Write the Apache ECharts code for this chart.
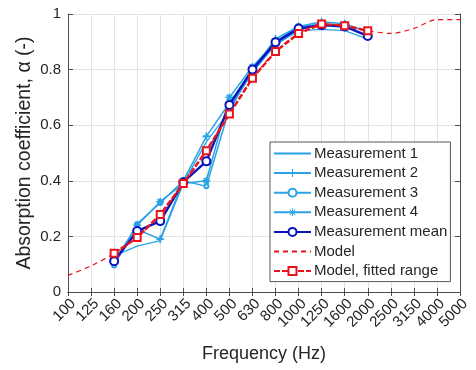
<!DOCTYPE html>
<html>
<head>
<meta charset="utf-8">
<script src="https://cdn.jsdelivr.net/npm/echarts@6/dist/echarts.min.js"></script>
<style>
  html, body { margin: 0; padding: 0; background: #fff; }
  #chart { width: 476px; height: 370px; }
</style>
</head>
<body>
<div id="chart"></div>
<script>
// Third-octave band centre frequencies (Hz)
const frequencies = ['100', '125', '160', '200', '250', '315', '400', '500', '630', '800',
  '1000', '1250', '1600', '2000', '2500', '3150', '4000', '5000'];

// Measured absorption coefficients, 160 Hz .. 2000 Hz (null outside the measured band)
const measurement1 = [null, null, 0.13, 0.165, 0.185, 0.39, 0.54, 0.65, 0.80, 0.89, 0.94, 0.945, 0.94, 0.91, null, null, null, null];
const measurement2 = [null, null, 0.11, 0.225, 0.19, 0.40, 0.56, 0.68, 0.80, 0.91, 0.955, 0.972, 0.965, 0.935, null, null, null, null];
const measurement3 = [null, null, 0.095, 0.245, 0.32, 0.40, 0.38, 0.66, 0.79, 0.89, 0.945, 0.96, 0.955, 0.92, null, null, null, null];
const measurement4 = [null, null, 0.11, 0.24, 0.325, 0.39, 0.40, 0.70, 0.81, 0.90, 0.955, 0.963, 0.96, 0.92, null, null, null, null];
const measurementMean = [null, null, 0.111, 0.219, 0.255, 0.395, 0.47, 0.673, 0.80, 0.898, 0.948, 0.96, 0.955, 0.921, null, null, null, null];

// Model prediction over the full band, and the part used for fitting
const model = [0.06, 0.094, 0.139, 0.196, 0.279, 0.39, 0.508, 0.64, 0.769, 0.865, 0.93, 0.964, 0.958, 0.94, 0.93, 0.948, 0.98, 0.98];
const modelFitted = [null, null, 0.139, 0.196, 0.279, 0.39, 0.508, 0.64, 0.769, 0.865, 0.93, 0.964, 0.958, 0.94, null, null, null, null];

const yTicks = { min: 0, max: 1, interval: 0.2 };

const FONT = "'Liberation Sans', Arial, Helvetica, sans-serif";
const TEXT = '#262626';
const AXIS = '#4d4d4d';
const GRIDLINE = '#e3e3e3';
const LIGHT_BLUE = '#2aa3e6';
const DARK_BLUE = '#0a14bd';
const RED = '#e8141c';
const NO_FILL = 'rgba(0,0,0,0)';

const plusSymbol = 'path://M-1,-0.13H1V0.13H-1Z M-0.13,-1H0.13V1H-0.13Z';
const starSymbol = 'path://M-1,-0.12H1V0.12H-1Z M-0.12,-1H0.12V1H-0.12Z ' +
  'M-0.78,-0.62L0.62,0.78L0.78,0.62L-0.62,-0.78Z M0.62,-0.78L0.78,-0.62L-0.62,0.78L-0.78,0.62Z';

function measSeries(name, data, symbol, size, extra) {
  return Object.assign({
    name: name,
    type: 'line',
    data: data,
    symbol: symbol,
    symbolSize: size,
    connectNulls: false,
    lineStyle: { color: LIGHT_BLUE, width: 1.5 },
    itemStyle: { color: LIGHT_BLUE, borderColor: LIGHT_BLUE },
    emphasis: { disabled: true },
    z: 2
  }, extra || {});
}

const chart = echarts.init(document.getElementById('chart'), null, { renderer: 'canvas' });

chart.setOption({
  animation: false,
  backgroundColor: '#fff',
  textStyle: { fontFamily: FONT },
  grid: { left: 68, right: 16, top: 14, bottom: 78, containLabel: false },
  xAxis: [{
    type: 'category',
    data: frequencies,
    boundaryGap: false,
    position: 'bottom',
    name: 'Frequency (Hz)',
    nameLocation: 'middle',
    nameGap: 53,
    nameMoveOverlap: false,
    nameTextStyle: { fontSize: 18, color: TEXT, fontFamily: FONT },
    axisLine: { show: true, lineStyle: { color: AXIS, width: 1 } },
    axisTick: { show: true, inside: true, length: 4, alignWithLabel: true, lineStyle: { color: AXIS } },
    axisLabel: { rotate: 45, fontSize: 15, color: TEXT, margin: 4, interval: 0, fontFamily: FONT,
      align: 'right', verticalAlign: 'top' },
    splitLine: { show: true, interval: 0, lineStyle: { color: GRIDLINE, width: 1 } }
  }, {
    type: 'category',
    data: frequencies,
    boundaryGap: false,
    position: 'top',
    axisLine: { show: true, lineStyle: { color: AXIS, width: 1 } },
    axisTick: { show: true, inside: true, length: 4, interval: 0, lineStyle: { color: AXIS } },
    axisLabel: { show: false },
    splitLine: { show: false }
  }],
  yAxis: [{
    type: 'value',
    min: yTicks.min,
    max: yTicks.max,
    interval: yTicks.interval,
    position: 'left',
    name: 'Absorption coefficient, α (-)',
    nameLocation: 'middle',
    nameGap: 33,
    nameMoveOverlap: false,
    nameTextStyle: { fontSize: 19.5, color: TEXT, fontFamily: FONT },
    axisLine: { show: true, lineStyle: { color: AXIS, width: 1 } },
    axisTick: { show: true, inside: true, length: 5, lineStyle: { color: AXIS } },
    axisLabel: { fontSize: 15, color: TEXT, margin: 7, fontFamily: FONT,
      formatter: function (v) { return String(Math.round(v * 10) / 10); } },
    splitLine: { show: true, lineStyle: { color: GRIDLINE, width: 1 } }
  }, {
    type: 'value',
    min: yTicks.min,
    max: yTicks.max,
    interval: yTicks.interval,
    position: 'right',
    axisLine: { show: true, lineStyle: { color: AXIS, width: 1 } },
    axisTick: { show: true, inside: true, length: 5, lineStyle: { color: AXIS } },
    axisLabel: { show: false },
    splitLine: { show: false }
  }],
  legend: {
    orient: 'vertical',
    left: 270,
    top: 142,
    padding: [4, 3, 3, 3],
    itemGap: 4.6,
    itemWidth: 37,
    itemHeight: 10,
    backgroundColor: '#fff',
    borderColor: '#555',
    borderWidth: 1,
    textStyle: { fontSize: 15, color: TEXT, fontFamily: FONT, padding: [0, 0, 0, -2] },
    data: ['Measurement 1', 'Measurement 2', 'Measurement 3', 'Measurement 4',
      'Measurement mean', 'Model', 'Model, fitted range']
  },
  series: [
    measSeries('Measurement 1', measurement1, 'circle', 0, {
      showSymbol: false,
      lineStyle: { color: LIGHT_BLUE, width: 1.3 },
      itemStyle: { color: NO_FILL, borderWidth: 0 } }),
    measSeries('Measurement 2', measurement2, plusSymbol, 7),
    measSeries('Measurement 3', measurement3, 'emptyCircle', 4, {
      itemStyle: { color: LIGHT_BLUE, borderColor: LIGHT_BLUE, borderWidth: 1.2 } }),
    measSeries('Measurement 4', measurement4, starSymbol, 7),
    {
      name: 'Measurement mean',
      type: 'line',
      data: measurementMean,
      symbol: 'emptyCircle',
      symbolSize: 8,
      lineStyle: { color: DARK_BLUE, width: 2.4 },
      itemStyle: { color: DARK_BLUE, borderColor: DARK_BLUE, borderWidth: 2 },
      emphasis: { disabled: true },
      z: 3
    },
    {
      name: 'Model',
      type: 'line',
      data: model,
      smooth: 0.3,
      symbol: 'circle',
      showSymbol: false,
      lineStyle: { color: RED, width: 1.2, type: [5, 4] },
      itemStyle: { color: NO_FILL, borderWidth: 0 },
      emphasis: { disabled: true },
      z: 4
    },
    {
      name: 'Model, fitted range',
      type: 'line',
      data: modelFitted,
      symbol: 'emptyRect',
      symbolSize: 7,
      lineStyle: { color: RED, width: 2.4, type: [6, 2] },
      itemStyle: { color: RED, borderColor: RED, borderWidth: 2 },
      emphasis: { disabled: true },
      z: 5
    }
  ]
});
</script>
</body>
</html>
